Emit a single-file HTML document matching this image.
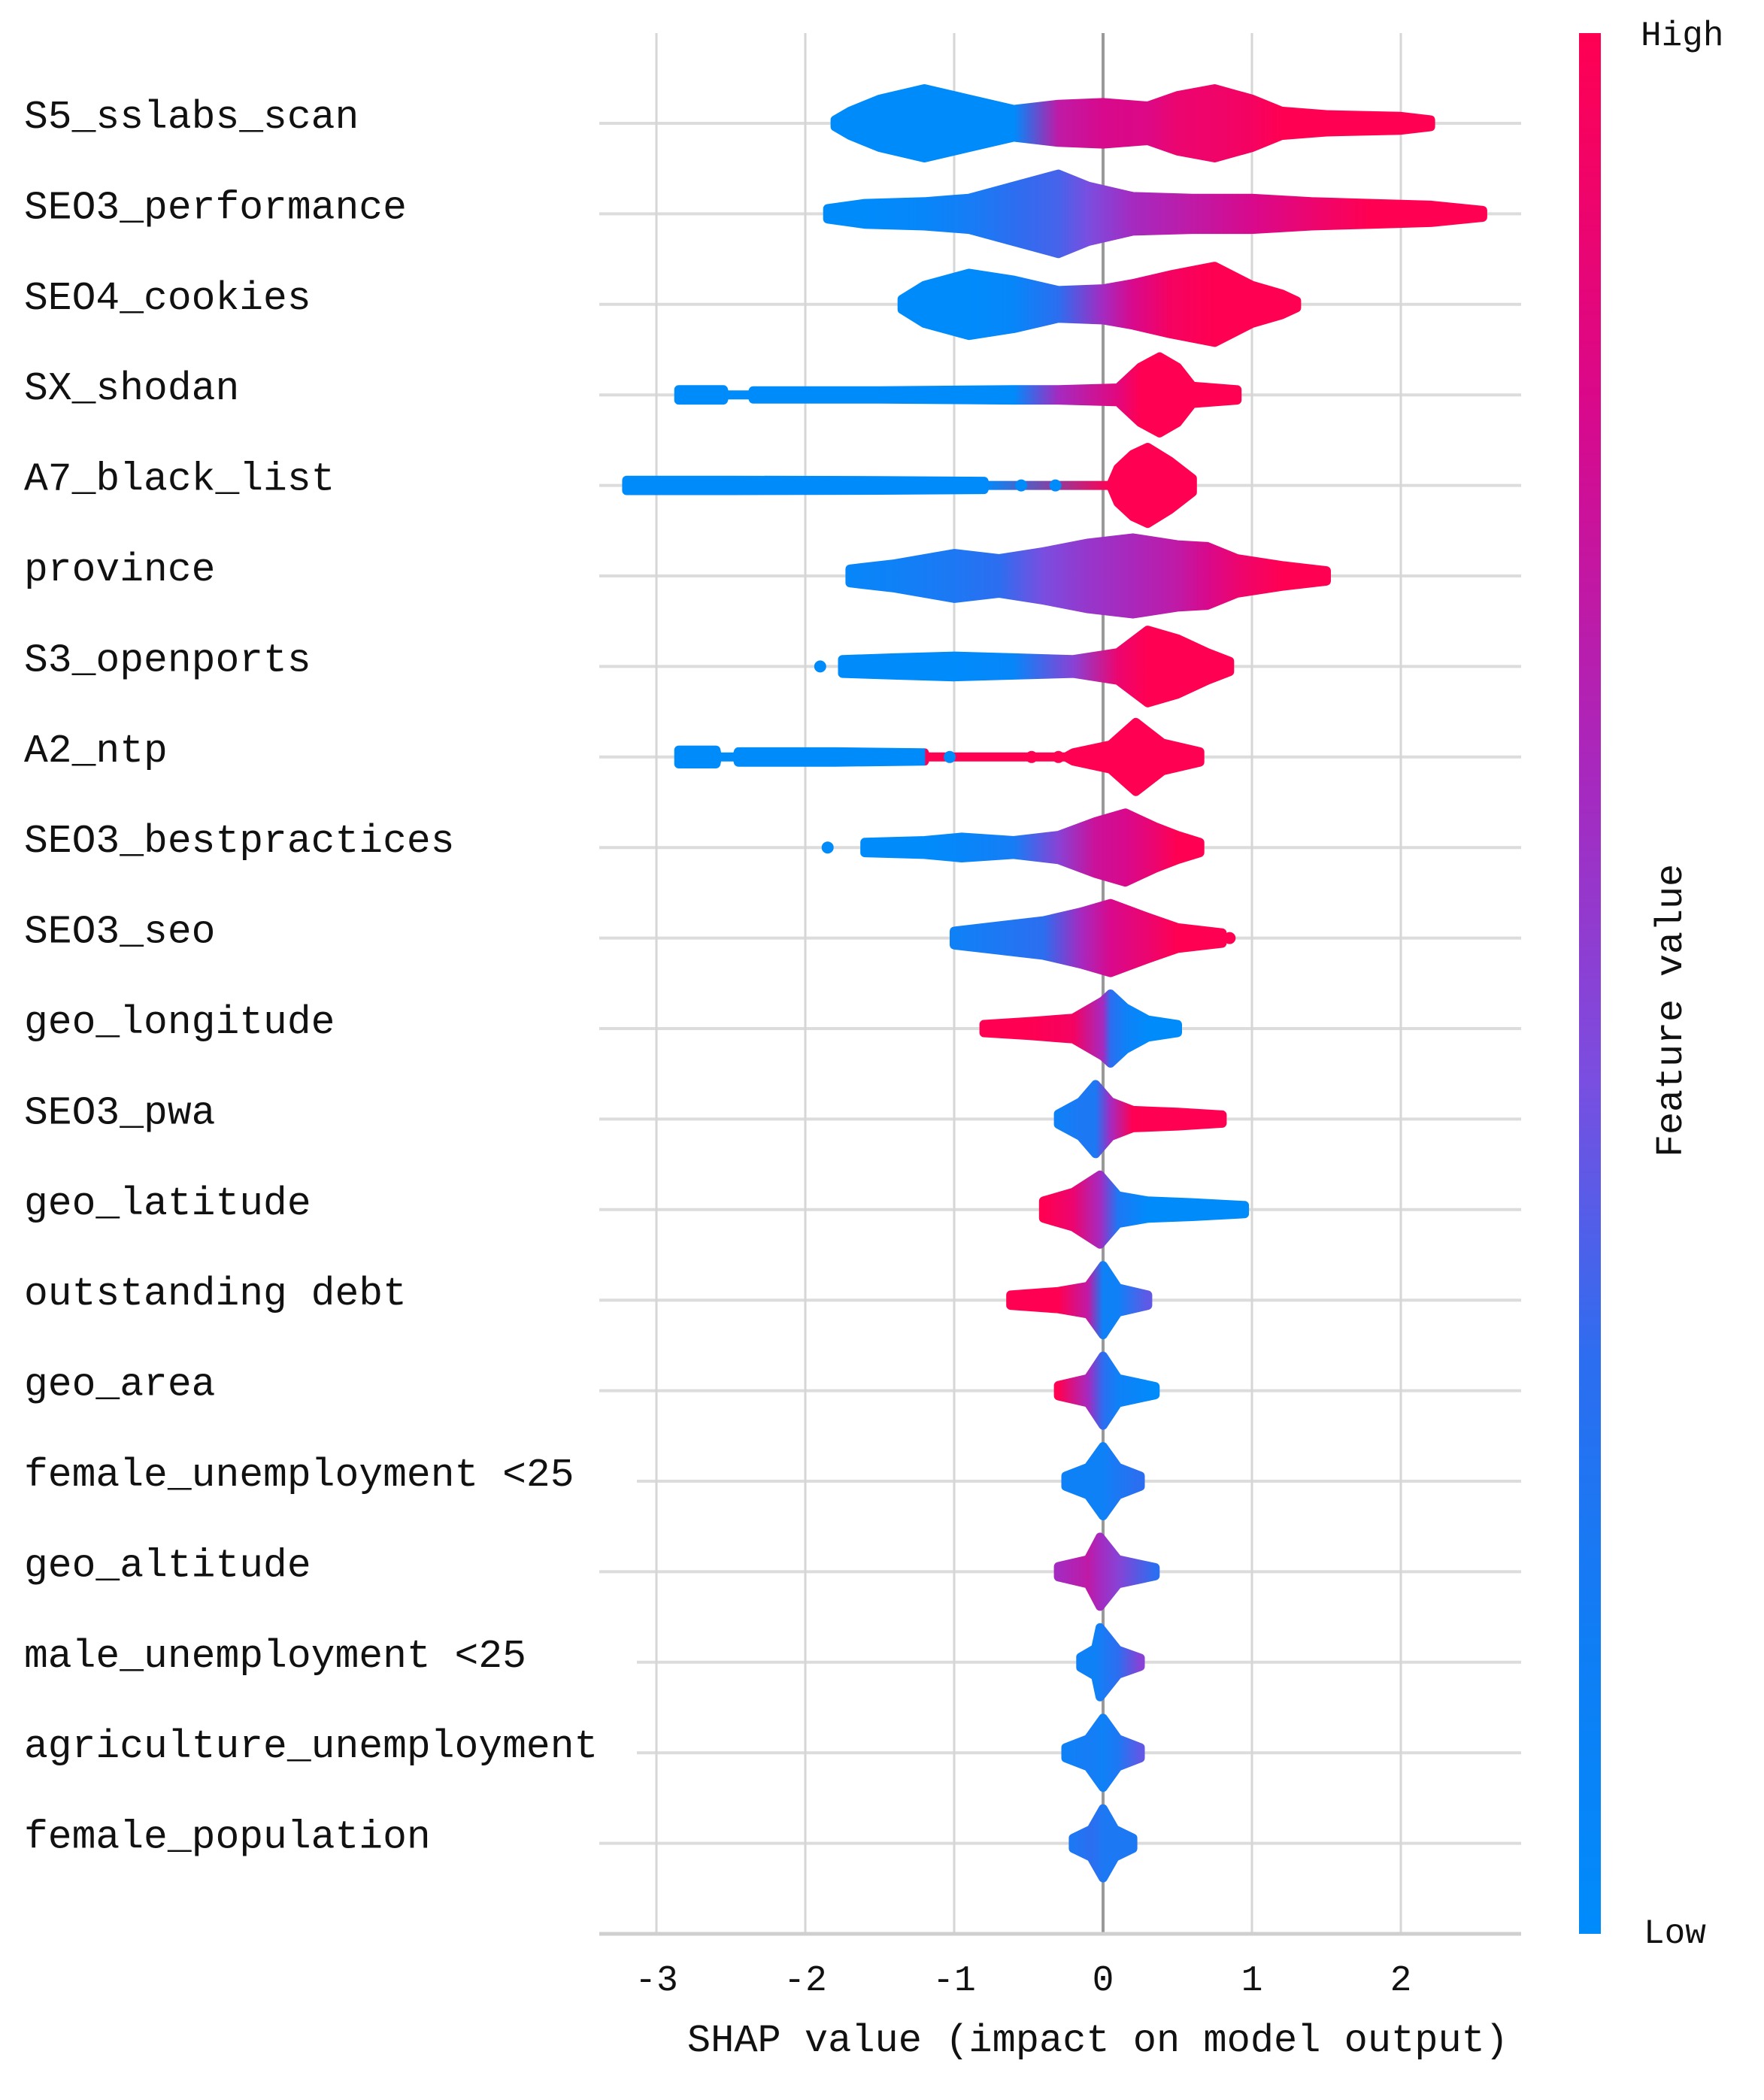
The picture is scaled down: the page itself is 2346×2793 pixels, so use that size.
<!DOCTYPE html>
<html><head><meta charset="utf-8"><style>
html,body{margin:0;padding:0;background:#fff;}
svg{display:block;}
text{font-family:"Liberation Mono","DejaVu Sans Mono",monospace;fill:#111;}
</style></head><body>
<svg id="chart" width="2346" height="2793" viewBox="0 0 2346 2793" xmlns="http://www.w3.org/2000/svg">
<defs>
<linearGradient id="cbar" x1="0" y1="1" x2="0" y2="0">
<stop offset="0" stop-color="#008bfb"/><stop offset="0.15" stop-color="#0f7ef5"/><stop offset="0.3" stop-color="#2c6ef0"/>
<stop offset="0.45" stop-color="#7a4ee0"/><stop offset="0.6" stop-color="#a52ac0"/><stop offset="0.8" stop-color="#d8098c"/><stop offset="1" stop-color="#ff0052"/>
</linearGradient>
</defs>
<g id="grid"></g>
<g id="marks"></g>
<g id="labels"></g>
<g id="xaxis"></g>
<rect x="2100" y="44" width="29" height="2528" fill="url(#cbar)"/>
<text x="2182" y="60" font-size="46">High</text>
<text x="2186" y="2584" font-size="46">Low</text>
<text x="0" y="0" font-size="50" text-anchor="middle" transform="translate(2236,1344) rotate(-90)">Feature value</text>
<text x="1460" y="2728" font-size="52" text-anchor="middle">SHAP value (impact on model output)</text>
</svg>
<script>
const features = ["S5_sslabs_scan","SEO3_performance","SEO4_cookies","SX_shodan","A7_black_list","province","S3_openports","A2_ntp","SEO3_bestpractices","SEO3_seo","geo_longitude","SEO3_pwa","geo_latitude","outstanding debt","geo_area","female_unemployment <25","geo_altitude","male_unemployment <25","agriculture_unemployment","female_population"];
const tickValues = [-3,-2,-1,0,1,2];
const tickLabels = ["-3","-2","-1","0","1","2"];
// per feature: SHAP knots, relative density, feature value colour (0=low,1=high)
const knotX = [
 [-1.8,-1.7,-1.5,-1.2,-0.9,-0.6,-0.3,0,0.3,0.5,0.75,1.0,1.2,1.5,2.0,2.2],
 [-1.85,-1.6,-1.2,-0.9,-0.6,-0.3,-0.1,0.2,0.6,1.0,1.4,1.8,2.2,2.55],
 [-1.35,-1.2,-0.9,-0.6,-0.3,0,0.2,0.45,0.75,1.0,1.2,1.3],
 [-2.85,-2.55,-2.54,-2.36,-2.35,-1.5,-0.6,-0.3,0.1,0.25,0.38,0.5,0.6,0.9],
 [-3.2,-2.5,-1.5,-0.8,-0.79,0.05,0.1,0.2,0.3,0.45,0.6],
 [-1.7,-1.4,-1.0,-0.7,-0.4,-0.1,0.2,0.5,0.7,0.9,1.2,1.5],
 [-1.75,-1.4,-1.0,-0.6,-0.2,0.1,0.3,0.5,0.7,0.85],
 [-2.85,-2.6,-2.59,-2.46,-2.45,-1.8,-1.2,-1.19,-0.25,-0.2,0.05,0.22,0.4,0.65],
 [-1.6,-1.2,-0.95,-0.6,-0.3,-0.05,0.15,0.35,0.5,0.65],
 [-1.0,-0.7,-0.4,-0.15,0.05,0.3,0.5,0.8],
 [-0.8,-0.5,-0.2,0,0.05,0.15,0.3,0.5],
 [-0.3,-0.15,-0.05,0.05,0.2,0.5,0.8],
 [-0.4,-0.2,-0.02,0.1,0.3,0.6,0.95],
 [-0.62,-0.3,-0.1,0,0.1,0.3],
 [-0.3,-0.1,0,0.1,0.35],
 [-0.25,-0.1,0,0.1,0.25],
 [-0.3,-0.1,-0.02,0.1,0.35],
 [-0.15,-0.05,-0.02,0.1,0.25],
 [-0.25,-0.1,0,0.1,0.25],
 [-0.2,-0.08,0,0.08,0.2]
];
const knotDensity = [
 [0.1,0.35,0.7,1.0,0.7,0.4,0.55,0.6,0.5,0.8,1.0,0.7,0.35,0.25,0.2,0.1],
 [0.15,0.3,0.35,0.45,0.8,1.15,0.8,0.5,0.45,0.45,0.35,0.3,0.25,0.1],
 [0.15,0.55,0.9,0.7,0.4,0.45,0.6,0.85,1.1,0.55,0.3,0.1],
 [0.15,0.15,0,0,0.12,0.12,0.15,0.15,0.2,0.8,1.1,0.8,0.25,0.15],
 [0.15,0.15,0.14,0.12,0,0,0.5,0.9,1.1,0.7,0.2],
 [0.2,0.35,0.65,0.5,0.7,0.95,1.1,0.9,0.85,0.5,0.3,0.15],
 [0.2,0.25,0.3,0.25,0.2,0.4,1.05,0.8,0.4,0.15],
 [0.2,0.2,0,0,0.15,0.15,0.12,0,0,0.12,0.35,1.0,0.4,0.15],
 [0.15,0.2,0.3,0.2,0.35,0.75,1.0,0.6,0.35,0.15],
 [0.2,0.35,0.5,0.75,1.0,0.6,0.3,0.15],
 [0.12,0.2,0.3,0.8,1.0,0.6,0.25,0.12],
 [0.15,0.5,1.0,0.5,0.25,0.2,0.12],
 [0.25,0.5,1.0,0.4,0.25,0.2,0.12],
 [0.15,0.25,0.4,1.0,0.35,0.15],
 [0.15,0.35,1.0,0.35,0.12],
 [0.15,0.4,1.0,0.4,0.15],
 [0.15,0.35,1.0,0.35,0.12],
 [0.15,0.4,1.0,0.35,0.12],
 [0.15,0.4,1.0,0.4,0.15],
 [0.15,0.4,1.0,0.4,0.15]
];
const knotColor = [
 [0,0,0,0,0,0,0.7,0.8,0.82,0.9,0.92,0.95,1,1,1,1],
 [0,0,0.05,0.15,0.3,0.35,0.45,0.6,0.7,0.8,0.9,1,1,1],
 [0,0,0,0.05,0.3,0.6,0.8,0.95,1,1,1,1],
 [0,0,0,0,0,0,0,0.6,0.85,1,1,1,1,1],
 [0,0,0,0,0,1,1,1,1,1,1],
 [0.05,0.1,0.2,0.3,0.45,0.55,0.62,0.7,0.8,0.9,1,1],
 [0,0,0,0.05,0.5,0.9,1,1,1,1],
 [0,0,0,0,0,0,0,1,1,1,1,1,1,1],
 [0,0,0.05,0.15,0.5,0.75,0.8,0.9,1,1],
 [0.1,0.2,0.3,0.6,0.8,0.9,1,1],
 [1,1,0.95,0.6,0.3,0.1,0,0],
 [0.1,0.2,0.2,0.6,1,1,1],
 [1,0.9,0.6,0.2,0,0,0],
 [1,1,0.7,0.1,0.1,0.4],
 [1,0.6,0.3,0.1,0],
 [0.1,0.1,0.1,0.2,0.3],
 [0.6,0.7,0.6,0.5,0.3],
 [0.1,0.1,0.15,0.3,0.5],
 [0.1,0.15,0.1,0.2,0.4],
 [0.2,0.3,0.2,0.2,0.2]
];
// isolated outlier points: [feature index, SHAP value, colour]
const outlierFeature = [4,4,7,7,7,8,6,9];
const outlierValue = [-0.55,-0.32,-1.03,-0.48,-0.3,-1.85,-1.9,0.85];
const outlierColor = [0,0,0,1,1,0,0,1];

const NS="http://www.w3.org/2000/svg";
const X0=1467, UNIT=198, Y0=164, ROW=120.4, HMAX=46, PLOT_TOP=44, PLOT_BOT=2572, GL=797, GR=2023;
const xScale=v=>X0+v*UNIT;
const yScale=i=>Y0+i*ROW;
function colorOf(t){
  const st=[[0,[0,139,251]],[0.3,[44,110,240]],[0.45,[122,78,224]],[0.6,[165,42,192]],[0.8,[216,9,140]],[1,[255,0,82]]];
  for(let k=1;k<st.length;k++){ if(t<=st[k][0]){const a=st[k-1],b=st[k];const f=(t-a[0])/(b[0]-a[0]);
    return "rgb("+a[1].map((c,j)=>Math.round(c+(b[1][j]-c)*f)).join(",")+")";}}
  return "rgb(255,0,82)";
}
function mk(tag,attrs,parent){const e=document.createElementNS(NS,tag);for(const k in attrs)e.setAttribute(k,attrs[k]);parent.appendChild(e);return e;}
const grid=document.getElementById('grid'), marks=document.getElementById('marks'), labels=document.getElementById('labels'), xaxis=document.getElementById('xaxis');
const defs=document.querySelector('defs');

features.forEach((f,i)=>{
  const y=yScale(i);
  const left = f.length>18 ? 847 : GL;
  const gl=mk('line',{x1:left,x2:GR,y1:y,y2:y,stroke:'#dcdcdc','stroke-width':4},grid);
  
  
  const t=mk('text',{x:32,y:y+6,'font-size':53},labels);
  t.textContent=f;
  
  
});
tickValues.forEach((v,k)=>{
  const x=xScale(v);
  const vl=mk('line',{x1:x,x2:x,y1:PLOT_TOP,y2:PLOT_BOT,stroke:v===0?'#999':'#d6d6d6','stroke-width':v===0?4:3},grid);
  
  
  const tl=mk('text',{x:x,y:2647,'font-size':48,'text-anchor':'middle'},xaxis);
  tl.textContent=tickLabels[k];
  
  
});
const ax=mk('line',{x1:GL,x2:GR,y1:PLOT_BOT,y2:PLOT_BOT,stroke:'#cfcfcf','stroke-width':5},xaxis);



knotX.forEach((xs,i)=>{
  const y=yScale(i), ds=knotDensity[i], cs=knotColor[i];
  const x1=xScale(xs[0]), x2=xScale(xs[xs.length-1]);
  const g=mk('linearGradient',{id:'g'+i,gradientUnits:'userSpaceOnUse',x1:x1,y1:0,x2:x2,y2:0},defs);
  xs.forEach((v,k)=>{mk('stop',{offset:((xScale(v)-x1)/(x2-x1||1)).toFixed(4),'stop-color':colorOf(cs[k])},g);});
  const top=xs.map((v,k)=>xScale(v).toFixed(1)+","+(y-ds[k]*HMAX).toFixed(1));
  const bot=xs.map((v,k)=>xScale(v).toFixed(1)+","+(y+ds[k]*HMAX).toFixed(1)).reverse();
  const p=mk('polygon',{points:top.concat(bot).join(" "),fill:'url(#g'+i+')',stroke:'url(#g'+i+')','stroke-width':12,'stroke-linejoin':'round'},marks);
  
  
});
outlierFeature.forEach((fi,k)=>{
  const c=mk('circle',{cx:xScale(outlierValue[k]),cy:yScale(fi),r:8,fill:colorOf(outlierColor[k])},marks);
  
  
});
</script>
</body></html>
